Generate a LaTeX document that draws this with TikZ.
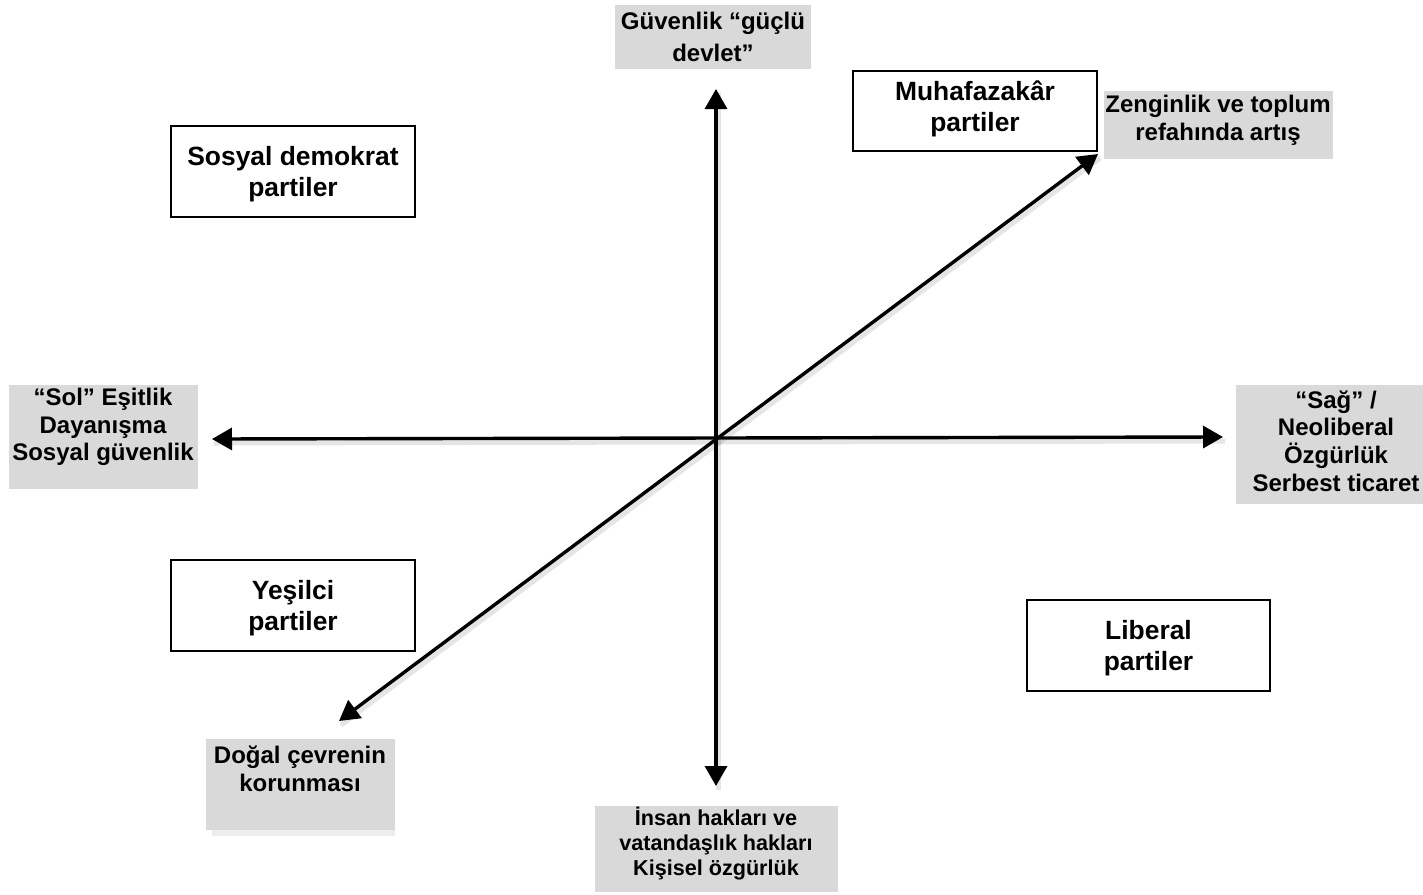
\documentclass[tikz,border=0pt]{standalone}
\usepackage{fontspec}
\setmainfont{Liberation Sans}
\usetikzlibrary{arrows.meta}
\definecolor{lbl}{HTML}{D9D9D9}
\definecolor{shd}{HTML}{EDEDED}
\begin{document}
\begin{tikzpicture}[x=0.5pt,y=-0.5pt,
 party/.style={draw=black, line width=0.9pt, fill=white, inner sep=0pt, font=\fontsize{13.2}{15.5}\selectfont\bfseries, align=center},
 graybox/.style={fill=lbl, draw=none, inner sep=0pt},
 glabel/.style={font=\fontsize{12}{13.8}\selectfont\bfseries, align=center, inner sep=0pt},
 axis/.style={line width=1.7pt, {Triangle[length=10pt,width=11pt]}-{Triangle[length=10pt,width=11pt]}},
 axshadow/.style={line width=2.5pt, draw=black, opacity=0.10}]
\useasboundingbox (0,0) rectangle (1423,894);

% axis end points
\coordinate (vtop) at (716,89);
\coordinate (vbot) at (716,786);
\coordinate (hl) at (212,439);
\coordinate (hr) at (1223,437);
\coordinate (dl) at (339,721);
\coordinate (dr) at (1098,154);

% soft shadows of the axes
\draw[axshadow] ([shift={(2,4)}]vtop) -- ([shift={(2,4)}]vbot);
\draw[axshadow] ([shift={(2,4)}]hl) -- ([shift={(2,4)}]hr);
\draw[axshadow] ([shift={(2,4)}]dl) -- ([shift={(2,4)}]dr);

% axes
\draw[axis] (vbot) -- (vtop);
\draw[axis] (hl) -- (hr);
\draw[axis] (dl) -- (dr);

% party boxes
\node[party, minimum width=122pt, minimum height=45.5pt] (sdbox) at (293,171.5) {};
\node[party, draw=none, fill=none] (sd) at (293,174) {Sosyal demokrat\\partiler};
\node[party, minimum width=122pt, minimum height=40pt] (muhbox) at (975,111) {};
\node[party, draw=none, fill=none] (muh) at (975,109) {Muhafazakâr\\partiler};
\node[party, minimum width=122pt, minimum height=45.5pt] (yesbox) at (293,605.5) {};
\node[party, draw=none, fill=none] (yes) at (293,608) {Yeşilci\\partiler};
\node[party, minimum width=121.5pt, minimum height=45.5pt] (libbox) at (1148.5,645.5) {};
\node[party, draw=none, fill=none] (lib) at (1148.5,648) {Liberal\\partiler};

% grey label boxes
\node[graybox, minimum width=98pt, minimum height=32pt] (guvbox) at (713,37) {};
\node[glabel, font=\fontsize{12}{16}\selectfont\bfseries] (guv) at (713,37) {Güvenlik “güçlü\\devlet”};

\node[graybox, minimum width=114.5pt, minimum height=34pt] (zenbox) at (1218.5,125) {};
\node[glabel] (zen) at (1218,120) {Zenginlik ve toplum\\refahında artış};

\node[graybox, minimum width=94.5pt, minimum height=52pt] (solbox) at (103.5,437) {};
\node[glabel] (sol) at (103,427) {“Sol” Eşitlik\\Dayanışma\\Sosyal güvenlik};

\node[graybox, minimum width=93.5pt, minimum height=59.5pt] (sagbox) at (1329.5,444.5) {};
\node[glabel] (sag) at (1336,441) {“Sağ” /\\Neoliberal\\Özgürlük\\Serbest ticaret};

\fill[shd] (212,828) rectangle (395,836);
\node[graybox, minimum width=94.5pt, minimum height=45.5pt] (dogbox) at (300.5,784.5) {};
\node[glabel] (dog) at (300,769) {Doğal çevrenin\\korunması};

\node[graybox, minimum width=121.5pt, minimum height=43pt] (insbox) at (716.5,849) {};
\node[glabel, font=\fontsize{10.8}{12.5}\selectfont\bfseries] (ins) at (716,844) {İnsan hakları ve\\vatandaşlık hakları\\Kişisel özgürlük};
\end{tikzpicture}
\end{document}
